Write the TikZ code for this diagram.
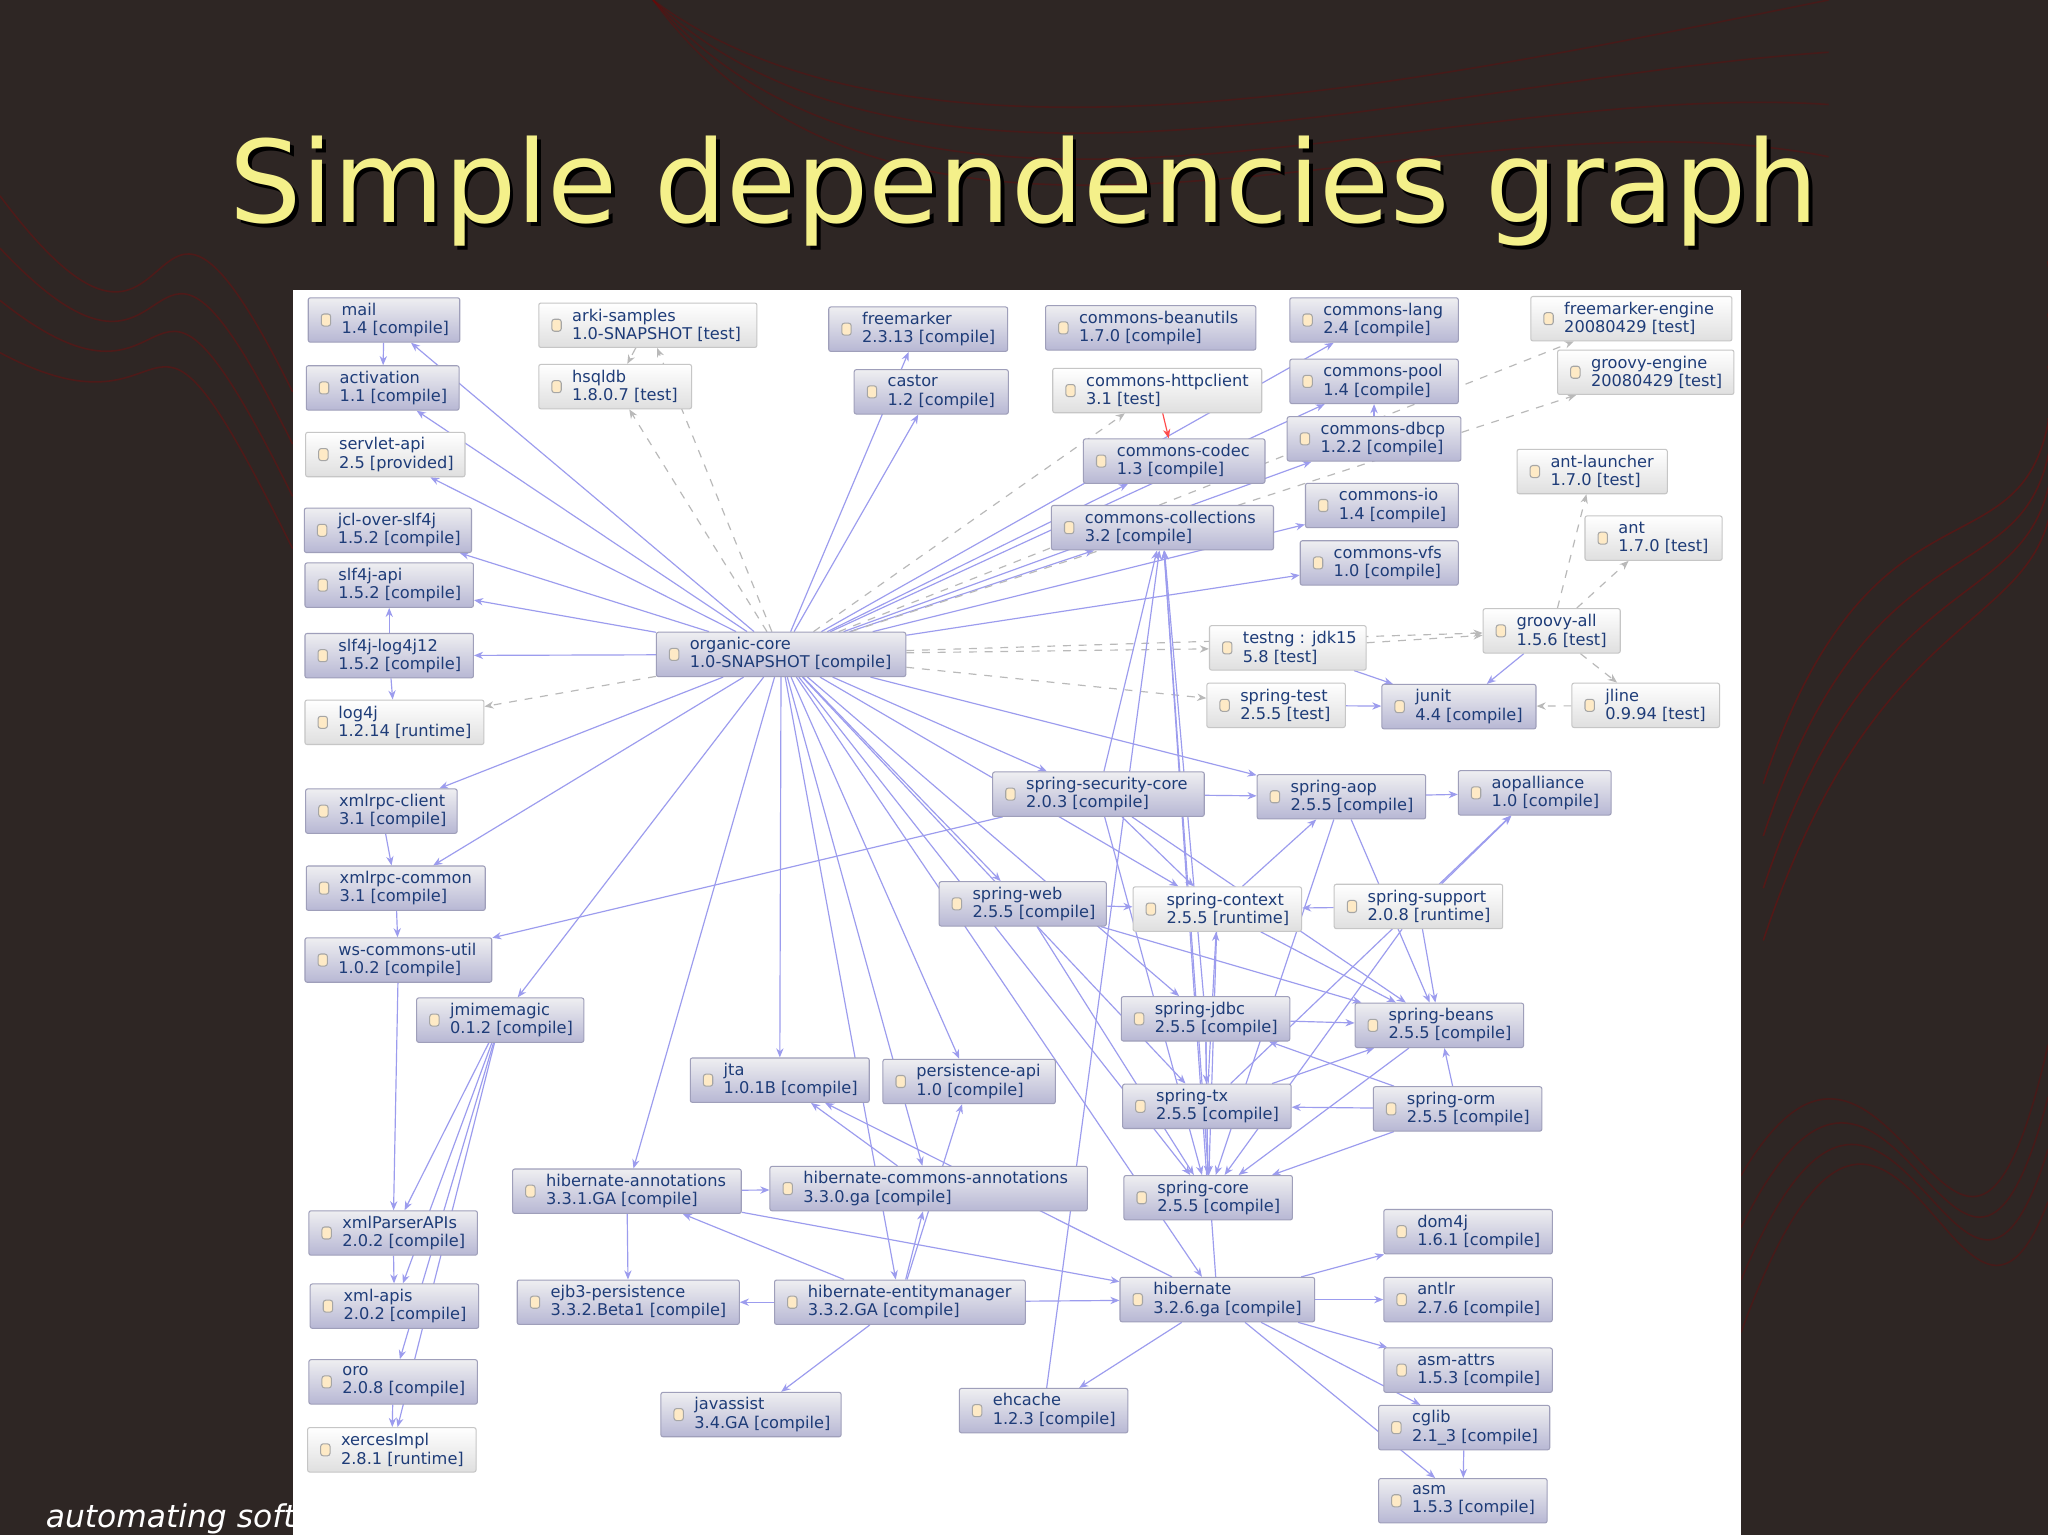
\documentclass[tikz,border=0pt]{standalone}
\usepackage{fontspec}
\setmainfont{DejaVu Sans}
\usetikzlibrary{arrows.meta}
\pgfdeclarelayer{back}\pgfdeclarelayer{edges}
\pgfsetlayers{back,edges,main}
\definecolor{bgc}{HTML}{2E2624}
\definecolor{ttl}{HTML}{F4F08A}
\definecolor{ec}{HTML}{9C9CEE}
\definecolor{txc}{HTML}{1E3C78}
\tikzset{
 bx/.style={draw=black!30!blue!25!gray!60,top color=blue!8!gray!12,bottom color=blue!25!gray!45,minimum height=17pt,inner sep=0pt,rounded corners=0.8pt},
 gx/.style={draw=gray!45,top color=white,bottom color=gray!25,minimum height=17pt,inner sep=0pt,rounded corners=0.8pt},
 icn/.style={draw=gray!70,fill=yellow!25!orange!20,minimum width=3.6pt,minimum height=4.6pt,inner sep=0pt,rounded corners=1pt},
 lbl/.style={font=\fontsize{6.2}{7}\selectfont,text=txc,align=left,inner sep=0pt},
 e/.style={draw=ec,line width=0.45pt,-{Stealth[length=3.5pt,width=2.8pt]}},
 d/.style={draw=gray!55,line width=0.45pt,dashed,-{Stealth[length=3.5pt,width=2.8pt]}},
}
\newcommand\dep[6]{\node[#1,minimum width=#4*0.5pt] (#2) at (#3) {};
 \node[icn] at ([xshift=7pt]#2.west) {};
 \node[lbl,anchor=west] at ([xshift=12.8pt]#2.west) {#5\\#6};}
\begin{document}
\begin{tikzpicture}[x=0.5pt,y=-0.5pt]
\useasboundingbox (0,0) rectangle (1568,1175);
\begin{pgfonlayer}{back}
\fill[bgc] (0,0) rectangle (1568,1175);
\foreach \s in {0,40,80,120}{
 \draw[red!60!black,opacity=0.35,line width=0.6pt] (1350,600+\s) .. controls (1450,300+\s) and (1600,500) .. (1568,200+\s);
 \draw[red!60!black,opacity=0.3,line width=0.6pt] (0,150+\s) .. controls (150,350) and (100,50+\s) .. (224,300+\s);
 \draw[red!50!black,opacity=0.3,line width=0.6pt] (1333,900+\s) .. controls (1450,700) and (1500,1100) .. (1568,800+\s);
 \draw[red!50!black,opacity=0.3,line width=0.6pt] (500,0) .. controls (700,150+\s) and (1100,60) .. (1400,\s);
}
\node[text=black,font=\fontsize{43.6}{44}\selectfont] at (787,149) {Simple dependencies graph};
\fill[white] (224,222) rectangle (1333,1175);
\end{pgfonlayer}
\node[text=ttl,font=\fontsize{43.6}{44}\selectfont] (title) at (784,146) {Simple dependencies graph};
\node[text=white,font=\itshape\fontsize{12}{12}\selectfont,anchor=west] (foot) at (28,1163) {automating softw};

\dep{bx}{mail}{294,245}{116}{mail}{1.4 [compile]}
\dep{bx}{activation}{293,297}{117}{activation}{1.1 [compile]}
\dep{gx}{servlet}{295,348}{122}{servlet-api}{2.5 [provided]}
\dep{bx}{jcl}{297,406}{128}{jcl-over-slf4j}{1.5.2 [compile]}
\dep{bx}{slfapi}{298,448}{129}{slf4j-api}{1.5.2 [compile]}
\dep{bx}{slflog}{298,502}{129}{slf4j-log4j12}{1.5.2 [compile]}
\dep{gx}{log4j}{302,553}{137}{log4j}{1.2.14 [runtime]}
\dep{bx}{xclient}{292,621}{116}{xmlrpc-client}{3.1 [compile]}
\dep{bx}{xcommon}{303,680}{137}{xmlrpc-common}{3.1 [compile]}
\dep{bx}{wsutil}{305,735}{143}{ws-commons-util}{1.0.2 [compile]}
\dep{bx}{jmime}{383,781}{128}{jmimemagic}{0.1.2 [compile]}
\dep{bx}{xpapi}{301,944}{129}{xmlParserAPIs}{2.0.2 [compile]}
\dep{bx}{xmlapis}{302,1000}{129}{xml-apis}{2.0.2 [compile]}
\dep{bx}{oro}{301,1058}{129}{oro}{2.0.8 [compile]}
\dep{gx}{xerces}{300,1110}{129}{xercesImpl}{2.8.1 [runtime]}
\dep{gx}{arki}{496,249}{167}{arki-samples}{1.0-SNAPSHOT [test]}
\dep{gx}{hsqldb}{471,296}{117}{hsqldb}{1.8.0.7 [test]}
\dep{bx}{freemarker}{703,252}{137}{freemarker}{2.3.13 [compile]}
\dep{bx}{castor}{713,300}{118}{castor}{1.2 [compile]}
\dep{bx}{beanutils}{881,251}{161}{commons-beanutils}{1.7.0 [compile]}
\dep{gx}{httpclient}{886,299}{160}{commons-httpclient}{3.1 [test]}
\dep{bx}{codec}{899,353}{139}{commons-codec}{1.3 [compile]}
\dep{bx}{collections}{890,404}{170}{commons-collections}{3.2 [compile]}
\dep{bx}{lang}{1052,245}{129}{commons-lang}{2.4 [compile]}
\dep{bx}{pool}{1052,292}{129}{commons-pool}{1.4 [compile]}
\dep{bx}{dbcp}{1052,336}{133}{commons-dbcp}{1.2.2 [compile]}
\dep{bx}{cio}{1058,387}{117}{commons-io}{1.4 [compile]}
\dep{bx}{vfs}{1056,431}{121}{commons-vfs}{1.0 [compile]}
\dep{gx}{fmengine}{1249,244}{154}{freemarker-engine}{20080429 [test]}
\dep{gx}{gengine}{1260,285}{135}{groovy-engine}{20080429 [test]}
\dep{gx}{antl}{1219,361}{115}{ant-launcher}{1.7.0 [test]}
\dep{gx}{ant}{1266,412}{105}{ant}{1.7.0 [test]}
\dep{gx}{groovy}{1188,483}{105}{groovy-all}{1.5.6 [test]}
\dep{bx}{core}{598,501}{191}{organic-core}{1.0-SNAPSHOT [compile]}
\dep{gx}{testng}{986,496}{120}{testng : jdk15}{5.8 [test]}
\dep{gx}{stest}{977,540}{106}{spring-test}{2.5.5 [test]}
\dep{bx}{junit}{1117,541}{118}{junit}{4.4 [compile]}
\dep{gx}{jline}{1260,540}{113}{jline}{0.9.94 [test]}
\dep{bx}{ssec}{841,608}{162}{spring-security-core}{2.0.3 [compile]}
\dep{bx}{saop}{1027,610}{129}{spring-aop}{2.5.5 [compile]}
\dep{bx}{aopa}{1175,607}{117}{aopalliance}{1.0 [compile]}
\dep{bx}{sweb}{783,692}{128}{spring-web}{2.5.5 [compile]}
\dep{gx}{sctx}{932,696}{129}{spring-context}{2.5.5 [runtime]}
\dep{gx}{ssup}{1086,694}{129}{spring-support}{2.0.8 [runtime]}
\dep{bx}{sjdbc}{923,780}{129}{spring-jdbc}{2.5.5 [compile]}
\dep{bx}{sbeans}{1102,785}{129}{spring-beans}{2.5.5 [compile]}
\dep{bx}{stx}{924,847}{129}{spring-tx}{2.5.5 [compile]}
\dep{bx}{sorm}{1116,849}{129}{spring-orm}{2.5.5 [compile]}
\dep{bx}{score}{925,917}{129}{spring-core}{2.5.5 [compile]}
\dep{bx}{jta}{597,827}{137}{jta}{1.0.1B [compile]}
\dep{bx}{papi}{742,828}{132}{persistence-api}{1.0 [compile]}
\dep{bx}{hann}{480,912}{175}{hibernate-annotations}{3.3.1.GA [compile]}
\dep{bx}{hcann}{711,910}{243}{hibernate-commons-annotations}{3.3.0.ga [compile]}
\dep{bx}{ejb}{481,997}{170}{ejb3-persistence}{3.3.2.Beta1 [compile]}
\dep{bx}{hem}{689,997}{192}{hibernate-entitymanager}{3.3.2.GA [compile]}
\dep{bx}{javassist}{575,1083}{138}{javassist}{3.4.GA [compile]}
\dep{bx}{ehcache}{799,1080}{129}{ehcache}{1.2.3 [compile]}
\dep{bx}{hib}{932,995}{149}{hibernate}{3.2.6.ga [compile]}
\dep{bx}{dom}{1124,943}{129}{dom4j}{1.6.1 [compile]}
\dep{bx}{antlr}{1124,995}{129}{antlr}{2.7.6 [compile]}
\dep{bx}{asmattrs}{1124,1049}{129}{asm-attrs}{1.5.3 [compile]}
\dep{bx}{cglib}{1121,1093}{131}{cglib}{2.1\_3 [compile]}
\dep{bx}{asm}{1120,1149}{129}{asm}{1.5.3 [compile]}

\begin{pgfonlayer}{edges}
\foreach \b in {mail,activation,servlet,jcl,slfapi,slflog,xclient,xcommon,jmime,freemarker,castor,codec,collections,lang,pool,dbcp,cio,vfs,ssec,saop,sweb,sctx,sjdbc,stx,score,jta,papi,hann,hem,hib,hcann}
  \draw[e] (core) -- (\b);
\foreach \b in {log4j,hsqldb,arki,httpclient,testng,stest,groovy,fmengine,gengine}
  \draw[d] (core) -- (\b);
\foreach \a/\b in {mail/activation,slflog/slfapi,slflog/log4j,xclient/xcommon,xcommon/wsutil,wsutil/xpapi,xpapi/xmlapis,oro/xerces,jmime/xpapi,jmime/xmlapis,jmime/oro,jmime/xerces,dbcp/pool,
 ssec/saop,ssec/sctx,ssec/sbeans,ssec/score,ssec/collections,ssec/wsutil,saop/aopa,saop/sbeans,saop/score,sctx/saop,sctx/sbeans,sctx/score,ssup/sctx,ssup/sbeans,ssup/score,ssup/aopa,
 sweb/sctx,sweb/sbeans,sweb/score,sjdbc/sbeans,sjdbc/score,sjdbc/stx,stx/sbeans,stx/score,stx/sctx,stx/aopa,sorm/sbeans,sorm/score,sorm/stx,sorm/sjdbc,sbeans/score,score/collections,sjdbc/collections,
 testng/junit,stest/junit,groovy/junit,hann/ejb,hann/hcann,hem/hann,hem/ejb,hem/hcann,hem/javassist,hem/hib,hem/papi,hcann/jta,hib/dom,hib/antlr,hib/asmattrs,hib/cglib,hib/asm,hib/ehcache,hib/collections,hib/jta,cglib/asm,ehcache/collections,hann/hib}
  \draw[e] (\a) -- (\b);
\foreach \a/\b in {arki/hsqldb,groovy/antl,groovy/ant,groovy/jline,jline/junit,testng/groovy}
  \draw[d] (\a) -- (\b);
\draw[e,draw=red!70] (httpclient) -- (codec);
\end{pgfonlayer}
\end{tikzpicture}
\end{document}
